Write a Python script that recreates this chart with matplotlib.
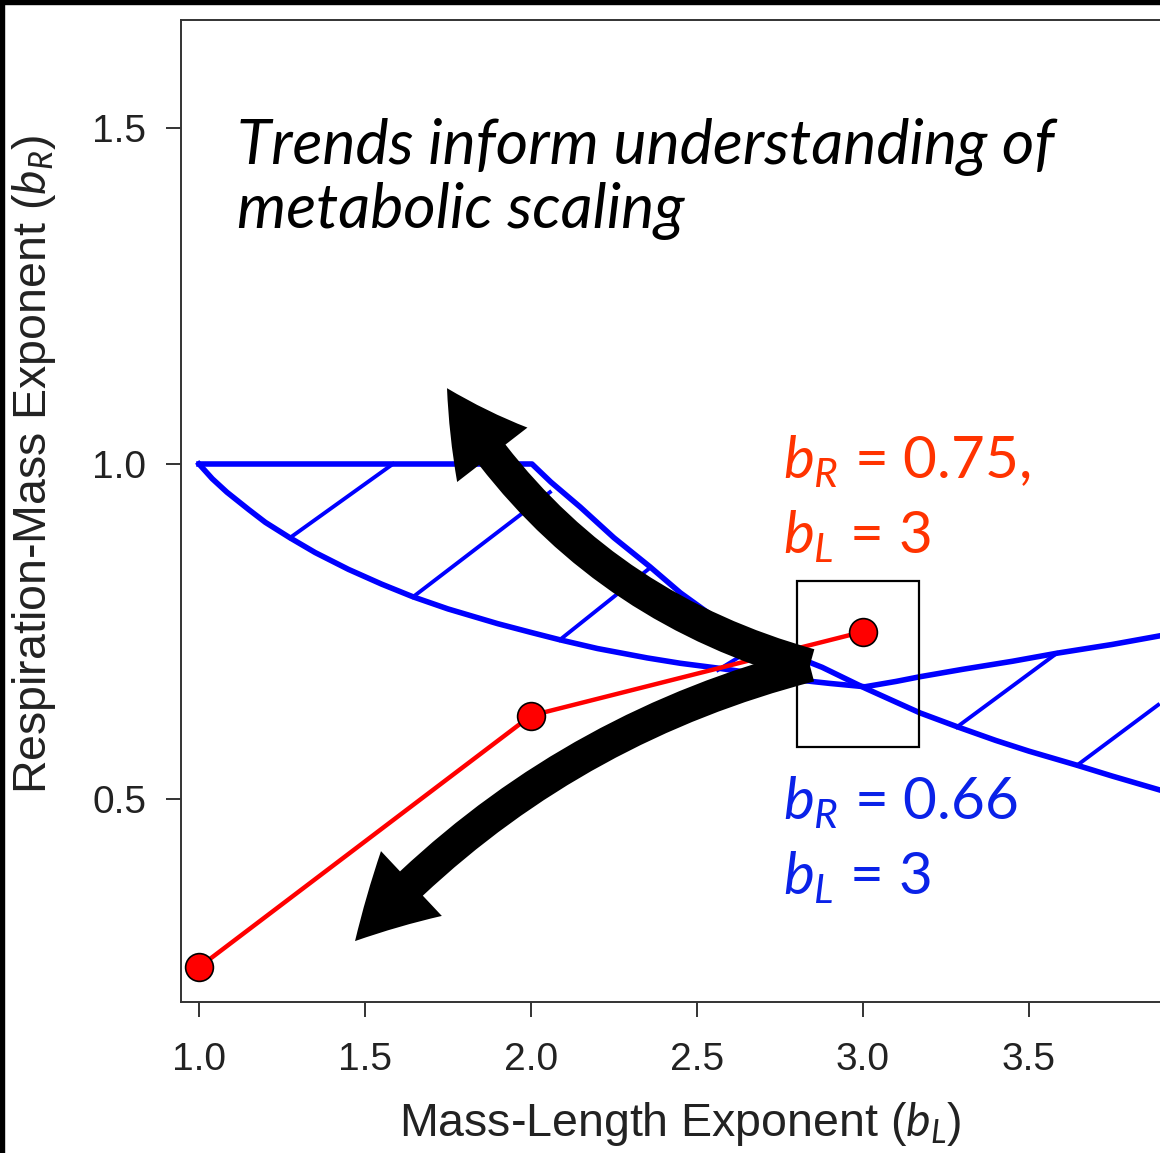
#!/usr/bin/env python3

import matplotlib
matplotlib.use("Agg")
import matplotlib.pyplot as plt
from matplotlib.patches import FancyArrowPatch, Rectangle, ArrowStyle

# red trend line: bR vs bL
red_bl = [1.0, 2.0, 3.0]
red_br = [0.25, 0.625, 0.75]

# blue boundary curve 1 (falls to ~0.667 at bL=3 then rises)
c1_bl = [1.0, 1.04, 1.084, 1.15, 1.2, 1.274, 1.35, 1.45, 1.55, 1.645, 1.75, 1.9,
         2.0, 2.087, 2.2, 2.35, 2.45, 2.56, 2.7, 2.807, 2.9, 3.006, 3.1, 3.172,
         3.3, 3.45, 3.584, 3.75, 3.895]
c1_br = [1.0, 0.978, 0.958, 0.932, 0.913, 0.890, 0.868, 0.843, 0.821, 0.802, 0.784, 0.762,
         0.749, 0.738, 0.725, 0.711, 0.703, 0.696, 0.686, 0.678, 0.673, 0.668, 0.676, 0.683,
         0.694, 0.706, 0.718, 0.731, 0.744]

# blue boundary curve 2 (flat at 1.0 to bL=2 then falls)
c2_bl = [1.0, 2.003, 2.06, 2.148, 2.25, 2.358, 2.45, 2.548, 2.62, 2.69, 2.78, 2.877,
         3.006, 3.1, 3.172, 3.286, 3.4, 3.5, 3.645, 3.75, 3.895]
c2_br = [1.0, 1.0, 0.973, 0.936, 0.890, 0.847, 0.808, 0.773, 0.754, 0.736, 0.716, 0.697,
         0.666, 0.645, 0.629, 0.608, 0.588, 0.572, 0.551, 0.535, 0.514]

# hatch segments between the curves
hatch_bl = [(1.274, 1.584), (1.645, 2.057), (2.087, 2.358), (2.563, 2.636),
            (3.283, 3.584), (3.645, 3.889)]
hatch_br = [(0.890, 1.0), (0.802, 0.958), (0.738, 0.845), (0.693, 0.715),
            (0.608, 0.718), (0.551, 0.641)]

box_bl = (2.801, 3.169)
box_br = (0.578, 0.826)

arrow_tail = (2.84, 0.70)
arrow_up_tip = (1.747, 1.113)
arrow_down_tip = (1.47, 0.289)

plt.rcParams['mathtext.fontset'] = 'custom'
plt.rcParams['mathtext.it'] = 'Lato:italic'
plt.rcParams['mathtext.rm'] = 'Lato'

fig = plt.figure(figsize=(11.6, 11.53), dpi=100)
ax = fig.add_axes([181/1160, 1 - 1002/1153, 1 - 181/1160, (1002 - 20)/1153])

blue = '#0000FF'
ax.plot(c1_bl, c1_br, color=blue, lw=4, solid_joinstyle='round')
ax.plot(c2_bl, c2_br, color=blue, lw=4, solid_joinstyle='round')
for hx, hy in zip(hatch_bl, hatch_br):
    ax.plot(hx, hy, color=blue, lw=2.8)

ax.plot(red_bl, red_br, color='#FF0000', lw=3.2, marker='o', ms=20,
        mfc='#FF0000', mec='black', mew=1.2, zorder=5)

ax.add_patch(Rectangle((box_bl[0], box_br[0]), box_bl[1] - box_bl[0], box_br[1] - box_br[0],
                       fill=False, ec='black', lw=1.6, zorder=6))

style = ArrowStyle.Simple(head_length=58, head_width=64, tail_width=24)
for tip, rad in [(arrow_up_tip, -0.2), (arrow_down_tip, 0.15)]:
    ax.add_patch(FancyArrowPatch(arrow_tail, tip, arrowstyle=style, mutation_scale=1,
                                 connectionstyle=f"arc3,rad={rad}", color='black',
                                 lw=0, zorder=7, shrinkA=0, shrinkB=0))

ax.text(1.115, 1.425, "Trends inform understanding of\nmetabolic scaling",
        family='Lato', style='italic', fontsize=45, va='center', ha='left',
        linespacing=1.12)

orange = '#FF3300'
ax.text(2.76, 1.005, r"$b_R$ = 0.75,", color=orange, family='Lato', fontsize=42,
        va='center', ha='left')
ax.text(2.76, 0.892, r"$b_L$ = 3", color=orange, family='Lato', fontsize=42,
        va='center', ha='left')

tblue = '#0A22E8'
ax.text(2.76, 0.497, r"$b_R$ = 0.66", color=tblue, family='Lato', fontsize=42,
        va='center', ha='left')
ax.text(2.76, 0.385, r"$b_L$ = 3", color=tblue, family='Lato', fontsize=42,
        va='center', ha='left')

ax.set_xlim(0.9458, 3.8946)
ax.set_ylim(0.1982, 1.6617)
ax.set_xticks([1.0, 1.5, 2.0, 2.5, 3.0, 3.5])
ax.set_yticks([0.5, 1.0, 1.5])
ax.set_xticklabels(['1.0', '1.5', '2.0', '2.5', '3.0', '3.5'])
ax.set_yticklabels(['0.5', '1.0', '1.5'])
ax.spines['right'].set_visible(False)
for s in ['left', 'top', 'bottom']:
    ax.spines[s].set_linewidth(1.4)
    ax.spines[s].set_color('#333333')
ax.tick_params(length=11, width=1.4, color='#333333', labelsize=28,
               labelcolor='#222222', pad=14)
ax.tick_params(axis='x', pad=18)
for lab in ax.get_xticklabels() + ax.get_yticklabels():
    lab.set_family('Liberation Sans')

ax.set_xlabel(r"Mass-Length Exponent ($\mathit{b_L}$)", family='Liberation Sans',
              fontsize=33.5, color='#222222')
ax.set_ylabel(r"Respiration-Mass Exponent ($\mathit{b_R}$)", family='Liberation Sans',
              fontsize=33.5, color='#222222')
ax.xaxis.set_label_coords(0.51, -0.1)
ax.yaxis.set_label_coords(-0.126, 0.547)

# black frame bands on left and top of the picture
fig.patches.append(Rectangle((0, 0), 4/1160, 1, transform=fig.transFigure,
                             color='black', zorder=10))
fig.patches.append(Rectangle((0, 1 - 4/1153), 1, 4/1153, transform=fig.transFigure,
                             color='black', zorder=10))

fig.savefig("out.png", dpi=100)
